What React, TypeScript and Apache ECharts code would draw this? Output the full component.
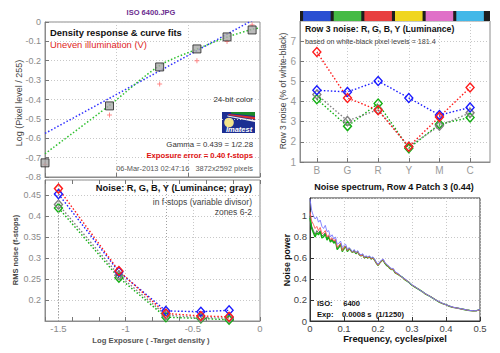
import React, { useEffect, useRef } from 'react';
import * as echarts from 'echarts';

// ---------- Panel 1: density response ----------
const densityLogExposure = [-1.5, -1.05, -0.70, -0.44, -0.23, -0.055];
const densityPixelLog = [-0.727, -0.433, -0.232, -0.139, -0.077, -0.041];
const unevenPixelLog = [-0.735, -0.48, -0.32, -0.20, -0.10, -0.015];
const gammaFitX = [-1.5, 0];
const gammaFitY = [-0.575, 0.03];
const curveFitX = [-1.5, -1.05, -0.70, -0.44, -0.23, -0.05, 0];
const curveFitY = [-0.68, -0.43, -0.225, -0.14, -0.078, -0.037, -0.03];

// ---------- Panel 2: row 3 noise ----------
const patchCats = ['B', 'G', 'R', 'Y', 'M', 'C'];
const patchColors = ['#2a4fd2', '#45bb45', '#e84040', '#f0d620', '#e070c8', '#42b8e8'];
const row3Red = [6.46, 4.18, 3.57, 1.76, 3.24, 4.70];
const row3Blue = [4.56, 4.48, 5.02, 4.18, 3.33, 3.71];
const row3Gray = [4.35, 3.04, 3.60, 1.76, 2.80, 3.44];
const row3Green = [4.12, 2.78, 3.90, 1.68, 2.88, 3.21];

// ---------- Panel 3: RMS noise in f-stops ----------
const noiseLogExposure = [-1.5, -1.05, -0.70, -0.44, -0.23];
const rmsRed = [0.465, 0.269, 0.168, 0.162, 0.160];
const rmsBlue = [0.452, 0.267, 0.174, 0.172, 0.1755];
const rmsGray = [0.427, 0.259, 0.164, 0.158, 0.157];
const rmsGreen = [0.419, 0.253, 0.159, 0.156, 0.153];
const zoneMarks = [-1.5, -0.70];
const rmsLabelTicks = [-1.5, -1, -0.5, 0];

// ---------- Panel 4: noise spectrum ----------
const freq = [0, 0.005, 0.01, 0.015, 0.02, 0.025, 0.03, 0.035, 0.04, 0.045, 0.05, 0.055, 0.06, 0.065, 0.07, 0.075, 0.08, 0.085, 0.09, 0.095, 0.1, 0.105, 0.11, 0.115, 0.12, 0.125, 0.13, 0.135, 0.14, 0.145, 0.15, 0.155, 0.16, 0.165, 0.17, 0.175, 0.18, 0.185, 0.19, 0.195, 0.2, 0.205, 0.21, 0.215, 0.22, 0.225, 0.23, 0.235, 0.24, 0.245, 0.25, 0.26, 0.27, 0.28, 0.29, 0.3, 0.31, 0.32, 0.33, 0.34, 0.35, 0.36, 0.37, 0.38, 0.39, 0.4, 0.41, 0.42, 0.43, 0.44, 0.45, 0.46, 0.47, 0.48, 0.49, 0.5];
const specGreen = [0.98, 0.88, 0.84, 0.80, 0.84, 0.82, 0.85, 0.79, 0.80, 0.83, 0.77, 0.80, 0.75, 0.77, 0.74, 0.76, 0.68, 0.70, 0.73, 0.66, 0.69, 0.71, 0.66, 0.69, 0.67, 0.65, 0.67, 0.64, 0.66, 0.63, 0.62, 0.63, 0.60, 0.61, 0.60, 0.61, 0.59, 0.60, 0.58, 0.55, 0.53, 0.55, 0.57, 0.58, 0.55, 0.53, 0.52, 0.50, 0.49, 0.49, 0.46, 0.44, 0.42, 0.39, 0.37, 0.34, 0.32, 0.30, 0.28, 0.255, 0.24, 0.22, 0.20, 0.18, 0.165, 0.155, 0.14, 0.13, 0.125, 0.118, 0.112, 0.105, 0.10, 0.097, 0.098, 0.108];
const specGray = [1.00, 0.90, 0.86, 0.82, 0.86, 0.84, 0.86, 0.81, 0.82, 0.84, 0.79, 0.81, 0.76, 0.78, 0.75, 0.77, 0.69, 0.71, 0.74, 0.67, 0.70, 0.71, 0.665, 0.69, 0.67, 0.65, 0.67, 0.64, 0.66, 0.63, 0.62, 0.63, 0.60, 0.61, 0.60, 0.61, 0.59, 0.60, 0.58, 0.55, 0.53, 0.55, 0.57, 0.58, 0.55, 0.53, 0.52, 0.50, 0.49, 0.49, 0.46, 0.445, 0.42, 0.395, 0.37, 0.34, 0.322, 0.30, 0.282, 0.257, 0.24, 0.222, 0.20, 0.182, 0.166, 0.155, 0.141, 0.131, 0.125, 0.119, 0.112, 0.105, 0.10, 0.097, 0.099, 0.108];
const specRed = [1.04, 0.95, 0.92, 0.88, 0.90, 0.86, 0.89, 0.83, 0.84, 0.86, 0.80, 0.82, 0.77, 0.79, 0.76, 0.78, 0.70, 0.72, 0.74, 0.67, 0.70, 0.71, 0.67, 0.69, 0.67, 0.655, 0.67, 0.645, 0.66, 0.63, 0.62, 0.63, 0.60, 0.615, 0.60, 0.61, 0.59, 0.60, 0.58, 0.55, 0.53, 0.55, 0.57, 0.585, 0.55, 0.535, 0.52, 0.50, 0.49, 0.495, 0.46, 0.442, 0.418, 0.392, 0.372, 0.342, 0.321, 0.302, 0.279, 0.256, 0.241, 0.221, 0.201, 0.181, 0.166, 0.154, 0.141, 0.13, 0.124, 0.118, 0.111, 0.105, 0.10, 0.096, 0.098, 0.107];
const specBlue = [1.16, 1.05, 1.00, 0.97, 0.99, 0.94, 0.96, 0.90, 0.88, 0.91, 0.85, 0.86, 0.80, 0.82, 0.78, 0.80, 0.73, 0.74, 0.76, 0.70, 0.72, 0.73, 0.68, 0.70, 0.68, 0.66, 0.68, 0.65, 0.67, 0.64, 0.63, 0.64, 0.61, 0.62, 0.61, 0.62, 0.60, 0.61, 0.59, 0.56, 0.54, 0.56, 0.58, 0.59, 0.56, 0.54, 0.53, 0.51, 0.50, 0.50, 0.47, 0.45, 0.42, 0.40, 0.37, 0.345, 0.325, 0.30, 0.28, 0.26, 0.24, 0.22, 0.20, 0.185, 0.168, 0.155, 0.143, 0.133, 0.125, 0.12, 0.113, 0.106, 0.10, 0.098, 0.099, 0.11];

const FONT = '"Liberation Sans", Arial, sans-serif';
const RED = '#ff1a1a';
const BLUE = '#1a1aff';
const GREEN = '#12b012';
const GRAY = '#808080';

const zip = (xs: number[], ys: number[]) => xs.map((x, i) => [x, ys[i]]);

function txt(x: number, y: number, text: string, size: number, opts: any = {}) {
  const align = opts.align || 'left';
  return {
    type: 'text',
    x,
    y,
    rotation: opts.rotation || 0,
    silent: true,
    z: 100,
    style: {
      text,
      fill: opts.color || '#222',
      font: `${opts.bold ? 'bold ' : ''}${opts.italic ? 'italic ' : ''}${size}px ${FONT}`,
      align,
      textAlign: align,
      verticalAlign: 'middle',
      textVerticalAlign: 'middle',
    },
  };
}

const dotted = [1.5, 2];

function diamondSeries(name: string, xIdx: number, yIdx: number, data: any[], color: string, extra: any = {}) {
  return {
    name,
    type: 'line',
    xAxisIndex: xIdx,
    yAxisIndex: yIdx,
    data,
    symbol: 'diamond',
    symbolSize: [8, 9],
    showSymbol: true,
    lineStyle: { color, width: 1.4, type: dotted },
    itemStyle: { color: 'rgba(255,255,255,0)', borderColor: color, borderWidth: 1.4 },
    ...extra,
  };
}

export default function App() {
  const ref = useRef<HTMLDivElement>(null);
  useEffect(() => {
    if (!ref.current) return;
    const chart = echarts.init(ref.current, undefined, { renderer: 'svg' });

    const gridLine = { show: true, lineStyle: { color: '#c8c8c8', type: [1, 2], width: 1 } };
    const lightAxisLine = { show: true, onZero: false, lineStyle: { color: '#8c8c8c', width: 1 } };
    const darkAxisLine = { show: true, onZero: false, lineStyle: { color: '#333', width: 1 } };

    const option: any = {
      animation: false,
      backgroundColor: '#ffffff',
      grid: [
        { left: 45, top: 22, width: 215, height: 155, show: true, borderColor: '#8c8c8c', borderWidth: 1 },
        { left: 300, top: 21, width: 190, height: 141, show: true, borderColor: '#8c8c8c', borderWidth: 1 },
        { left: 45, top: 180, width: 215, height: 141, show: true, borderColor: '#8c8c8c', borderWidth: 1 },
        { left: 310, top: 198, width: 170, height: 123, show: true, borderColor: '#333', borderWidth: 1 },
      ],
      xAxis: [
        {
          gridIndex: 0, type: 'value', min: -1.5, max: 0, interval: 0.5,
          axisLine: lightAxisLine, axisLabel: { show: false },
          axisTick: { show: true, inside: true, length: 4, lineStyle: { color: '#777' } },
          splitLine: gridLine,
        },
        {
          gridIndex: 1, type: 'value', min: 0.45, max: 6.65,
          axisLine: lightAxisLine,
          axisLabel: {
            customValues: [1, 2, 3, 4, 5, 6],
            formatter: (v: number) => patchCats[Math.round(v) - 1] || '',
            color: '#9a9a9a', fontSize: 10, fontFamily: FONT, margin: 3,
          },
          axisTick: { show: true, inside: true, length: 4, customValues: [1, 2, 3, 4, 5, 6], lineStyle: { color: '#777' } },
          splitLine: gridLine,
        },
        {
          gridIndex: 2, type: 'value', min: -1.6, max: 0,
          axisLine: lightAxisLine,
          axisLabel: {
            customValues: rmsLabelTicks,
            formatter: (v: number) => String(v),
            color: '#8a8a8a', fontSize: 9.5, fontFamily: FONT, margin: 2,
          },
          axisTick: { show: false, customValues: rmsLabelTicks },
          splitLine: gridLine,
        },
        {
          gridIndex: 3, type: 'value', min: 0, max: 0.5, interval: 0.1,
          axisLine: darkAxisLine,
          axisLabel: { color: '#444', fontSize: 9.5, fontFamily: FONT, margin: 2 },
          axisTick: { show: true, inside: true, length: 4, lineStyle: { color: '#333' } },
          splitLine: gridLine,
        },
        {
          gridIndex: 2, type: 'value', min: -1.6, max: 0, interval: 0.2, position: 'bottom',
          axisLine: { show: false, onZero: false }, axisLabel: { show: false }, splitLine: { show: false },
          axisTick: { show: true, inside: true, length: 4, lineStyle: { color: '#777' } },
        },
        {
          gridIndex: 2, type: 'value', min: -1.6, max: 0, interval: 0.2, position: 'top',
          axisLine: { show: false, onZero: false }, axisLabel: { show: false }, splitLine: { show: false },
          axisTick: { show: true, inside: true, length: 4, lineStyle: { color: '#777' } },
        },
      ],
      yAxis: [
        {
          gridIndex: 0, type: 'value', min: -0.8, max: 0, interval: 0.1,
          axisLine: lightAxisLine,
          axisLabel: { color: '#8a8a8a', fontSize: 9, fontFamily: FONT, margin: 4 },
          axisTick: { show: true, inside: true, length: 4, lineStyle: { color: '#777' } },
          splitLine: gridLine,
        },
        {
          gridIndex: 1, type: 'value', min: 1, max: 8, interval: 1,
          axisLine: lightAxisLine,
          axisLabel: { color: '#9a9a9a', fontSize: 10, fontFamily: FONT, margin: 4, showMaxLabel: false },
          axisTick: { show: true, inside: true, length: 4, lineStyle: { color: '#777' } },
          splitLine: gridLine,
        },
        {
          gridIndex: 2, type: 'value', min: 0.15, max: 0.4855, interval: 0.05,
          axisLine: lightAxisLine,
          axisLabel: { color: '#8a8a8a', fontSize: 9, fontFamily: FONT, margin: 4, showMinLabel: false, showMaxLabel: false },
          axisTick: { show: true, inside: true, length: 4, lineStyle: { color: '#777' } },
          splitLine: gridLine,
        },
        {
          gridIndex: 3, type: 'value', min: 0, max: 1.17, interval: 0.2,
          axisLine: darkAxisLine,
          axisLabel: { color: '#444', fontSize: 9.5, fontFamily: FONT, margin: 3, showMaxLabel: false },
          axisTick: { show: true, inside: true, length: 4, lineStyle: { color: '#333' } },
          splitLine: gridLine,
        },
      ],
      series: [
        // Panel 1
        {
          type: 'line', xAxisIndex: 0, yAxisIndex: 0, data: zip(gammaFitX, gammaFitY),
          symbol: 'none', lineStyle: { color: '#3030ff', width: 1.5, type: dotted }, clip: true,
        },
        {
          type: 'line', xAxisIndex: 0, yAxisIndex: 0, data: zip(curveFitX, curveFitY), smooth: 0.3,
          symbol: 'none', lineStyle: { color: '#30c030', width: 1.5, type: dotted }, clip: true,
        },
        {
          type: 'scatter', xAxisIndex: 0, yAxisIndex: 0, data: zip(densityLogExposure, unevenPixelLog),
          symbol: 'path://M5 0V10M0 5H10', symbolSize: 5,
          itemStyle: { color: 'none', borderColor: '#ff7070', borderWidth: 1 },
        },
        {
          type: 'scatter', xAxisIndex: 0, yAxisIndex: 0, data: zip(densityLogExposure, densityPixelLog),
          symbol: 'rect', symbolSize: 8,
          itemStyle: { color: '#a9a9a9', borderColor: '#222', borderWidth: 1 }, z: 5,
        },
        // Panel 2: color bar
        {
          type: 'custom', xAxisIndex: 1, yAxisIndex: 1, clip: false, silent: true,
          data: patchCats.map((_, i) => [i + 1, 1]),
          renderItem: (params: any, api: any) => {
            const cs = params.coordSys;
            const c = api.coord([api.value(0), 1]);
            const w = api.size([1, 0])[0];
            const h = 10;
            const children: any[] = [];
            if (params.dataIndex === 0) {
              children.push({ type: 'rect', shape: { x: cs.x, y: cs.y - h, width: cs.width, height: h }, style: { fill: '#1e1e1e' } });
            }
            children.push({
              type: 'rect',
              shape: { x: c[0] - w * 0.45, y: cs.y - h, width: w * 0.9, height: h },
              style: { fill: patchColors[params.dataIndex] },
            });
            return { type: 'group', children };
          },
        },
        diamondSeries('green', 1, 1, zip([1, 2, 3, 4, 5, 6], row3Green), GREEN),
        diamondSeries('gray', 1, 1, zip([1, 2, 3, 4, 5, 6], row3Gray), GRAY),
        diamondSeries('blue', 1, 1, zip([1, 2, 3, 4, 5, 6], row3Blue), BLUE),
        diamondSeries('red', 1, 1, zip([1, 2, 3, 4, 5, 6], row3Red), RED),
        // Panel 3
        diamondSeries('green', 2, 2, zip(noiseLogExposure, rmsGreen), GREEN, {
          markLine: {
            silent: true, symbol: 'none', label: { show: false },
            lineStyle: { type: [1, 2], color: '#a0a0a0', width: 1 },
            data: zoneMarks.map((x) => ({ xAxis: x })),
          },
        }),
        diamondSeries('gray', 2, 2, zip(noiseLogExposure, rmsGray), GRAY),
        diamondSeries('blue', 2, 2, zip(noiseLogExposure, rmsBlue), BLUE),
        diamondSeries('red', 2, 2, zip(noiseLogExposure, rmsRed), RED),
        // Panel 4
        {
          type: 'line', xAxisIndex: 3, yAxisIndex: 3, data: zip(freq, specGray), symbol: 'none',
          lineStyle: { color: '#505050', width: 0.9 },
        },
        {
          type: 'line', xAxisIndex: 3, yAxisIndex: 3, data: zip(freq, specGreen), symbol: 'none',
          lineStyle: { color: '#10b010', width: 1.4 },
        },
        {
          type: 'line', xAxisIndex: 3, yAxisIndex: 3, data: zip(freq, specRed), symbol: 'none',
          lineStyle: { color: '#ff5555', width: 0.9 },
        },
        {
          type: 'line', xAxisIndex: 3, yAxisIndex: 3, data: zip(freq, specBlue), symbol: 'none',
          lineStyle: { color: '#7878ff', width: 0.9 },
        },
      ],
      graphic: [
        // Panel 1 texts
        txt(151, 12, 'ISO 6400.JPG', 7.5, { bold: true, color: '#6b2d8f', align: 'center' }),
        txt(50, 32, 'Density response & curve fits', 9.4, { bold: true, color: '#111' }),
        txt(50, 44, 'Uneven illumination (V)', 9.4, { color: '#e02424' }),
        txt(253, 99, '24-bit color', 8, { color: '#333', align: 'right' }),
        txt(253, 144, 'Gamma = 0.439 = 1/2.28', 7.8, { color: '#333', align: 'right' }),
        txt(253, 155, 'Exposure error = 0.40 f-stops', 7.7, { bold: true, color: '#e01010', align: 'right' }),
        txt(253, 168, '06-Mar-2013 02:47:16   3872x2592 pixels', 7.4, { color: '#555', align: 'right' }),
        txt(19, 103, 'Log (Pixel level / 255)', 9, { color: '#444', align: 'center', rotation: Math.PI / 2 }),
        // Imatest logo
        {
          type: 'group', x: 222, y: 112, silent: true, z: 100,
          children: [
            { type: 'rect', shape: { x: 0, y: 0, width: 33, height: 21 }, style: { fill: '#1c2e92' } },
            { type: 'polygon', shape: { points: [[9, 0], [33, 0], [33, 4], [9, 1.5]] }, style: { fill: '#1a8a2a' } },
            { type: 'polygon', shape: { points: [[6, 2], [33, 5], [33, 7.5], [7, 3.2]] }, style: { fill: '#d83030' } },
            { type: 'polygon', shape: { points: [[5, 3.6], [33, 8.3], [33, 10], [5.5, 4.6]] }, style: { fill: '#f2f2f2' } },
            { type: 'circle', shape: { cx: 7, cy: 10.5, r: 4.8 }, style: { fill: '#f3e48a' } },
            { type: 'text', x: 17, y: 17, style: { text: 'Imatest', fill: '#ffffff', font: `italic bold 7.5px ${FONT}`, align: 'center', textAlign: 'center', verticalAlign: 'middle', textVerticalAlign: 'middle' } },
          ],
        },
        // Panel 2 texts
        txt(305, 29, 'Row 3 noise: R, G, B, Y (Luminance)', 8.7, { bold: true, color: '#111' }),
        txt(305, 41, 'based on white-black pixel levels = 181.4', 7.2, { color: '#444' }),
        txt(283, 91, 'Row 3 noise (% of white-black)', 8.5, { color: '#444', align: 'center', rotation: Math.PI / 2 }),
        // Panel 3 texts
        txt(252, 188, 'Noise: R, G, B, Y (Luminance; gray)', 9.3, { bold: true, color: '#111', align: 'right' }),
        txt(252, 202, 'in f-stops (variable divisor)', 8.5, { color: '#444', align: 'right' }),
        txt(252, 212, 'zones 6-2', 8.5, { color: '#444', align: 'right' }),
        txt(151, 340, 'Log Exposure ( -Target density )', 7.7, { bold: true, color: '#555', align: 'center' }),
        txt(15, 250, 'RMS noise (f-stops)', 7.5, { bold: true, color: '#444', align: 'center', rotation: Math.PI / 2 }),
        // Panel 4 texts
        txt(394, 187, 'Noise spectrum, Row 4 Patch 3 (0.44)', 9, { bold: true, color: '#111', align: 'center' }),
        txt(395, 339, 'Frequency, cycles/pixel', 9.3, { bold: true, color: '#111', align: 'center' }),
        txt(287, 260, 'Noise power', 8.8, { bold: true, color: '#111', align: 'center', rotation: Math.PI / 2 }),
        txt(317, 303, 'ISO:     6400', 7.6, { bold: true, color: '#111' }),
        txt(317, 314, 'Exp:    0.0008 s  (1/1250)', 7.6, { bold: true, color: '#111' }),
      ],
    };

    chart.setOption(option);
    return () => chart.dispose();
  }, []);

  return (
    <div
      ref={ref}
      style={{ position: 'fixed', left: 0, top: 0, width: 500, height: 353, background: '#fff' }}
    />
  );
}
